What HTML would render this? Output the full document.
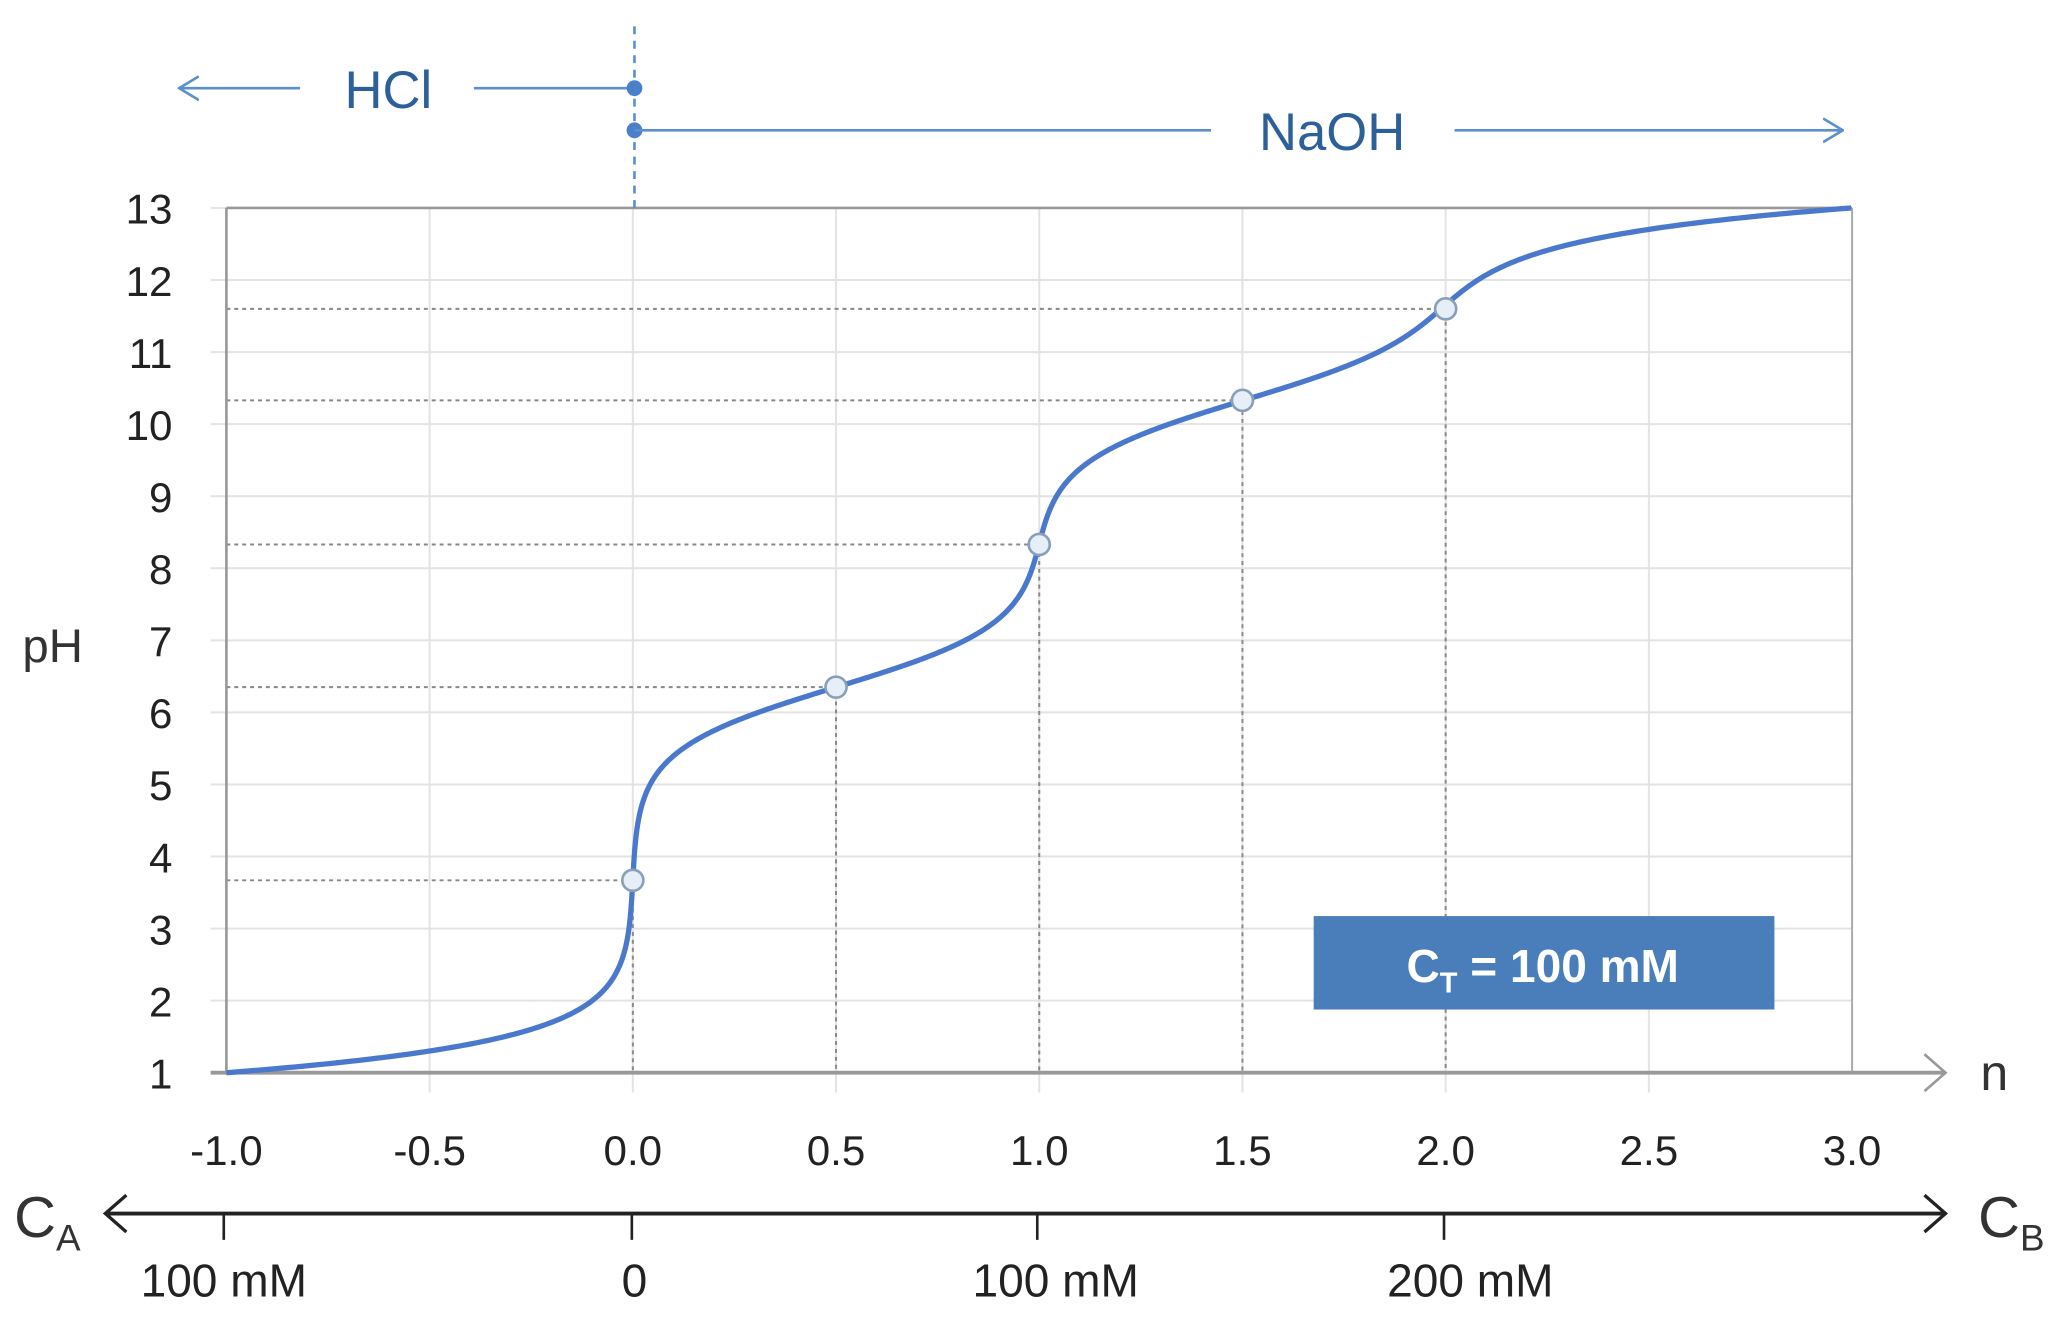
<!DOCTYPE html>
<html><head><meta charset="utf-8"><style>
html,body{margin:0;padding:0;background:#fff}
svg{display:block}
text{font-family:"Liberation Sans",sans-serif}
</style></head><body>
<svg id="s" width="2064" height="1332" viewBox="0 0 1568 1012" preserveAspectRatio="none" xmlns="http://www.w3.org/2000/svg">
<defs>
<marker id="ab" markerWidth="16" markerHeight="20" refX="15" refY="10" orient="auto" markerUnits="userSpaceOnUse"><path d="M0,1 L15,10 L0,19" fill="none" stroke="#5b8fd0" stroke-width="2"/></marker>
</defs>
<g id="grid" stroke="#e3e3e3" stroke-width="1.5"></g>
<g id="dots" stroke="#888" stroke-width="1.5" stroke-dasharray="3,3" fill="none"></g>
<line x1="172" y1="158" x2="1407" y2="158" stroke="#999" stroke-width="2"/>
<line x1="1407" y1="158" x2="1407" y2="815" stroke="#aaa" stroke-width="1.5"/>
<line x1="172" y1="158" x2="172" y2="815" stroke="#999" stroke-width="2"/>
<line x1="160" y1="815" x2="1478" y2="815" stroke="#999" stroke-width="3"/>
<path d="M1462,801 L1478,815 L1462,829" fill="none" stroke="#999" stroke-width="2"/>
<text x="1515" y="828" font-size="38" fill="#333" text-anchor="middle">n</text>
<g id="yl" font-size="32" fill="#222" text-anchor="end"></g>
<text x="40" y="503" font-size="36" fill="#333" text-anchor="middle">pH</text>
<g id="xl" font-size="32" fill="#222" text-anchor="middle"></g>
<path id="curve" fill="none" stroke="#4a78cc" stroke-width="4"/>
<g id="pts" fill="#e6eef8" stroke="#8a9fb8" stroke-width="2"></g>
<line x1="482" y1="20" x2="482" y2="158" stroke="#5b8fd0" stroke-width="2" stroke-dasharray="6,5"/>
<line x1="228" y1="67" x2="136" y2="67" stroke="#5b8fd0" stroke-width="2" marker-end="url(#ab)"/>
<text x="295" y="82" font-size="40" fill="#2d5f99" text-anchor="middle">HCl</text>
<line x1="360" y1="67" x2="482" y2="67" stroke="#5b8fd0" stroke-width="2"/>
<circle cx="482" cy="67" r="6" fill="#4a80c8"/>
<circle cx="482" cy="99" r="6" fill="#4a80c8"/>
<line x1="482" y1="99" x2="920" y2="99" stroke="#5b8fd0" stroke-width="2"/>
<text x="1012" y="114" font-size="40" fill="#2d5f99" text-anchor="middle">NaOH</text>
<line x1="1105" y1="99" x2="1400" y2="99" stroke="#5b8fd0" stroke-width="2" marker-end="url(#ab)"/>
<rect x="998" y="696" width="350" height="71" fill="#4a7ebb"/>
<text x="1172" y="746" font-size="35" font-weight="bold" fill="#fff" text-anchor="middle">C<tspan font-size="22" dy="8">T</tspan><tspan dy="-8"> = 100 mM</tspan></text>
<line x1="82" y1="922" x2="1476" y2="922" stroke="#222" stroke-width="3"/>
<path d="M96,908 L80,922 L96,936" fill="none" stroke="#222" stroke-width="2.5"/>
<path d="M1462,908 L1478,922 L1462,936" fill="none" stroke="#222" stroke-width="2.5"/>
<g stroke="#222" stroke-width="2"><line x1="170" y1="922" x2="170" y2="942"/><line x1="480" y1="922" x2="480" y2="942"/><line x1="788" y1="922" x2="788" y2="942"/><line x1="1097" y1="922" x2="1097" y2="942"/></g>
<text x="36" y="940" font-size="44" fill="#333" text-anchor="middle">C<tspan font-size="28" dy="10">A</tspan></text>
<text x="1528" y="940" font-size="44" fill="#333" text-anchor="middle">C<tspan font-size="28" dy="10">B</tspan></text>
<g font-size="35" fill="#222" text-anchor="middle">
<text x="170" y="985">100 mM</text><text x="482" y="985">0</text><text x="802" y="985">100 mM</text><text x="1117" y="985">200 mM</text>
</g>
</svg>
<script>
var NS="http://www.w3.org/2000/svg";
function X(n){return 172+(n+1)*308.75;}
function Y(p){return 815-(p-1)*54.75;}
function el(t,a,par){var e=document.createElementNS(NS,t);for(var k in a)e.setAttribute(k,a[k]);document.getElementById(par).appendChild(e);return e;}
for(var p=2;p<=12;p++)el("line",{x1:160,y1:Y(p),x2:1407,y2:Y(p)},"grid");
for(var i=1;i<8;i++){var x=X(-1+i*0.5);el("line",{x1:x,y1:158,x2:x,y2:830},"grid");}
el("line",{x1:160,y1:158,x2:172,y2:158},"grid");
for(var p=1;p<=13;p++){var t=el("text",{x:131,y:Y(p)+12},"yl");t.textContent=p;}
var xs=["-1.0","-0.5","0.0","0.5","1.0","1.5","2.0","2.5","3.0"];
for(var i=0;i<9;i++){var t=el("text",{x:X(-1+i*0.5),y:885},"xl");t.textContent=xs[i];}
var K1=Math.pow(10,-6.35),K2=Math.pow(10,-10.33),CT=0.1,d="";
for(var p=1;p<=13.0001;p+=0.01){var h=Math.pow(10,-p),oh=1e-14/h;var D=h*h+K1*h+K1*K2;var n=(K1*h+2*K1*K2)/D+(oh-h)/CT;d+=(d?"L":"M")+X(n).toFixed(2)+","+Y(p).toFixed(2);}
document.getElementById("curve").setAttribute("d",d);
var P=[[0,3.67],[0.5,6.35],[1,8.33],[1.5,10.33],[2,11.6]];
P.forEach(function(q){var x=X(q[0]),y=Y(q[1]);el("path",{d:"M172,"+y+"L"+x+","+y+"L"+x+",815"},"dots");el("circle",{cx:x,cy:y,r:8},"pts");});
</script>
</body></html>
